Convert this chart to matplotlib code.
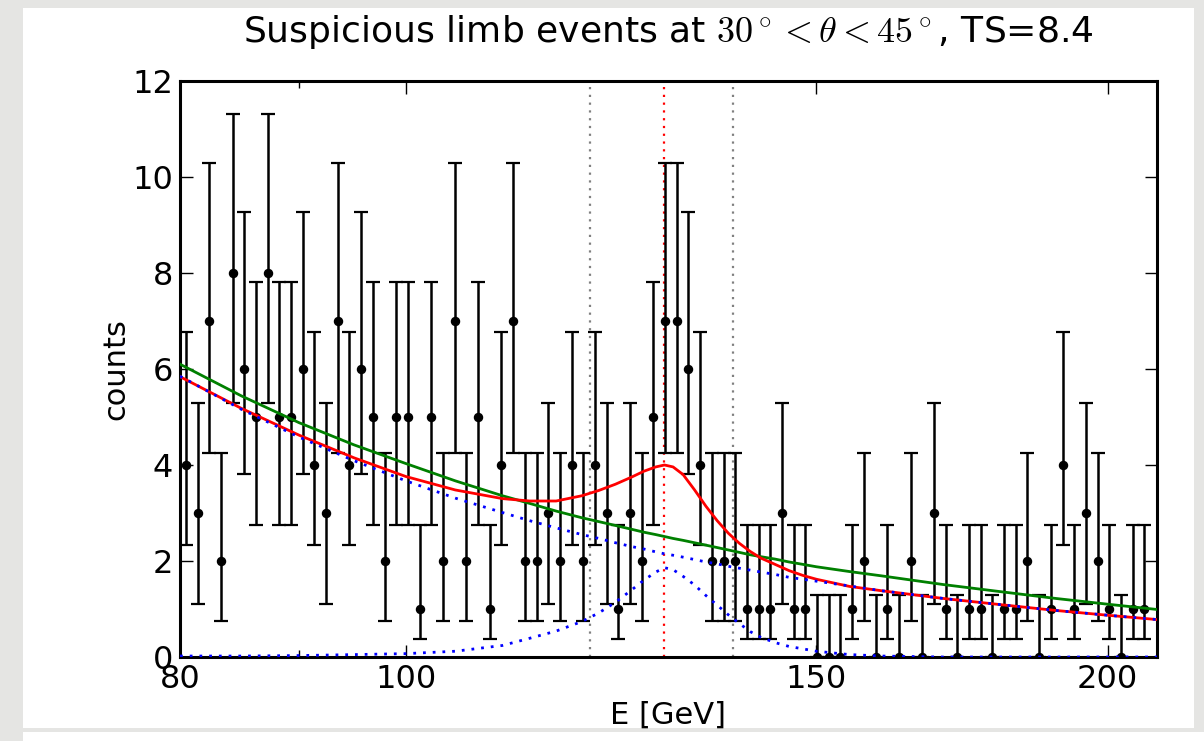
import matplotlib
matplotlib.use("Agg")
import matplotlib.pyplot as plt
from matplotlib.patches import Rectangle
import numpy as np

plt.rcParams['mathtext.fontset'] = 'cm'
plt.rcParams['font.family'] = 'DejaVu Sans'

# photon counts per log-spaced energy bin (80 - 208.6 GeV)
counts = [4, 3, 7, 2, 8, 6, 5, 8, 5, 5, 6, 4, 3, 7, 4, 6, 5, 2, 5, 5,
          1, 5, 2, 7, 2, 5, 1, 4, 7, 2, 2, 3, 2, 4, 2, 4, 3, 1, 3, 2,
          5, 7, 7, 6, 4, 2, 2, 2, 1, 1, 1, 3, 1, 1, 0, 0, 0, 1, 2, 0,
          1, 0, 2, 0, 3, 1, 0, 1, 1, 0, 1, 1, 2, 0, 1, 4, 1, 3, 2, 1,
          0, 1, 1]
e_lo, e_hi = 80.0, 208.6

# 68% Feldman-Cousins intervals for n = 0..8
fc_lower = [0.00, 0.37, 0.74, 1.10, 2.34, 2.75, 3.82, 4.25, 5.30]
fc_upper = [1.29, 2.75, 4.25, 5.30, 6.78, 7.81, 9.28, 10.30, 11.32]

# model curves
e_model = [80, 85, 90, 95, 100, 105, 110, 113, 116, 119, 121, 123, 125,
           126.5, 128, 129.1, 130.2, 131.5, 133, 134.5, 136, 137.5, 139,
           140.5, 142, 144, 146, 148, 150, 155, 160, 170, 180, 190, 200, 210]
bkg_only = [6.10, 5.44, 4.88, 4.42, 4.03, 3.67, 3.36, 3.20, 3.04, 2.90,
            2.82, 2.74, 2.66, 2.60, 2.55, 2.51, 2.47, 2.43, 2.38, 2.33,
            2.28, 2.23, 2.18, 2.13, 2.09, 2.04, 1.98, 1.93, 1.88, 1.78,
            1.69, 1.51, 1.36, 1.22, 1.10, 0.99]
bkg = [5.85, 5.16, 4.58, 4.09, 3.67, 3.31, 3.01, 2.84, 2.69, 2.55,
       2.47, 2.38, 2.30, 2.25, 2.19, 2.15, 2.12, 2.08, 2.03, 1.98,
       1.94, 1.89, 1.85, 1.81, 1.77, 1.72, 1.66, 1.62, 1.58, 1.48,
       1.38, 1.22, 1.09, 0.97, 0.87, 0.78]
line = [0.02, 0.02, 0.03, 0.05, 0.07, 0.12, 0.24, 0.39, 0.54, 0.74,
        0.92, 1.14, 1.40, 1.60, 1.77, 1.86, 1.82, 1.68, 1.50, 1.28,
        1.08, 0.88, 0.70, 0.53, 0.41, 0.30, 0.22, 0.17, 0.12, 0.05,
        0.02, 0.0, 0.0, 0.0, 0.0, 0.0]
total = [5.84, 5.18, 4.62, 4.15, 3.76, 3.48, 3.30, 3.25, 3.25, 3.36,
         3.47, 3.60, 3.75, 3.87, 3.96, 4.00, 3.96, 3.80, 3.48, 3.14,
         2.84, 2.58, 2.37, 2.20, 2.06, 1.93, 1.80, 1.70, 1.62, 1.47,
         1.38, 1.22, 1.09, 0.97, 0.87, 0.78]

e_line = 129.1
e_window = [120.0, 138.1]

edges = np.geomspace(e_lo, e_hi, len(counts) + 1)
centers = np.sqrt(edges[:-1] * edges[1:])
n = np.array(counts)
yerr = [n - np.array(fc_lower)[n], np.array(fc_upper)[n] - n]

fig = plt.figure(figsize=(12.04, 7.41), dpi=100, facecolor='#e5e5e3')
# white slide panel
fig.add_artist(Rectangle((23 / 1204, 1 - 728 / 741), 1171 / 1204, 720 / 741,
                         transform=fig.transFigure, facecolor='white',
                         edgecolor='none', zorder=-10))
fig.add_artist(Rectangle((23 / 1204, 0), 1181 / 1204, 9 / 741,
                         transform=fig.transFigure, facecolor='white',
                         edgecolor='none', zorder=-10))

ax = fig.add_axes([180 / 1204, 1 - 657 / 741, 977 / 1204, 576 / 741])
ax.set_xscale('log')

ax.errorbar(centers, n, yerr=yerr, fmt='o', color='k', ms=5.8,
            elinewidth=1.8, capsize=5, capthick=1.6, zorder=2)
ax.plot(e_model, bkg_only, color='g', lw=2, zorder=3)
ax.plot(e_model, total, color='r', lw=2, zorder=3)
ax.plot(e_model, bkg, color='b', lw=2, ls=(0, (1, 2.5)), zorder=4)
ax.plot(e_model, line, color='b', lw=2, ls=(0, (1, 2.5)), zorder=4)
for e in e_window:
    ax.axvline(e, color='0.5', lw=1.6, ls=(0, (1, 2.5)), zorder=1)
ax.axvline(e_line, color='r', lw=1.6, ls=(0, (1, 2.5)), zorder=1)

ax.set_xlim(80, 210)
ax.set_ylim(0, 12)
ax.set_xticks([80, 100, 150, 200])
ax.set_xticklabels(['80', '100', '150', '200'])
ax.set_xticks([90], minor=True)
ax.set_xticklabels([''], minor=True)
ax.set_yticks(range(0, 13, 2))

ax.tick_params(which='both', direction='in', top=True, right=True,
               labelsize=23, pad=5)
ax.tick_params(which='major', length=9, width=1)
ax.tick_params(which='minor', length=5, width=1)
for s in ax.spines.values():
    s.set_linewidth(2.2)

ax.set_xlabel('E [GeV]', fontsize=22, labelpad=4)
ax.set_ylabel('counts', fontsize=22, labelpad=1)
ax.set_title(r'Suspicious limb events at $30^\circ < \theta < 45^\circ$, TS=8.4',
             fontsize=26, pad=28)

fig.savefig('out.png', dpi=100, facecolor=fig.get_facecolor())
